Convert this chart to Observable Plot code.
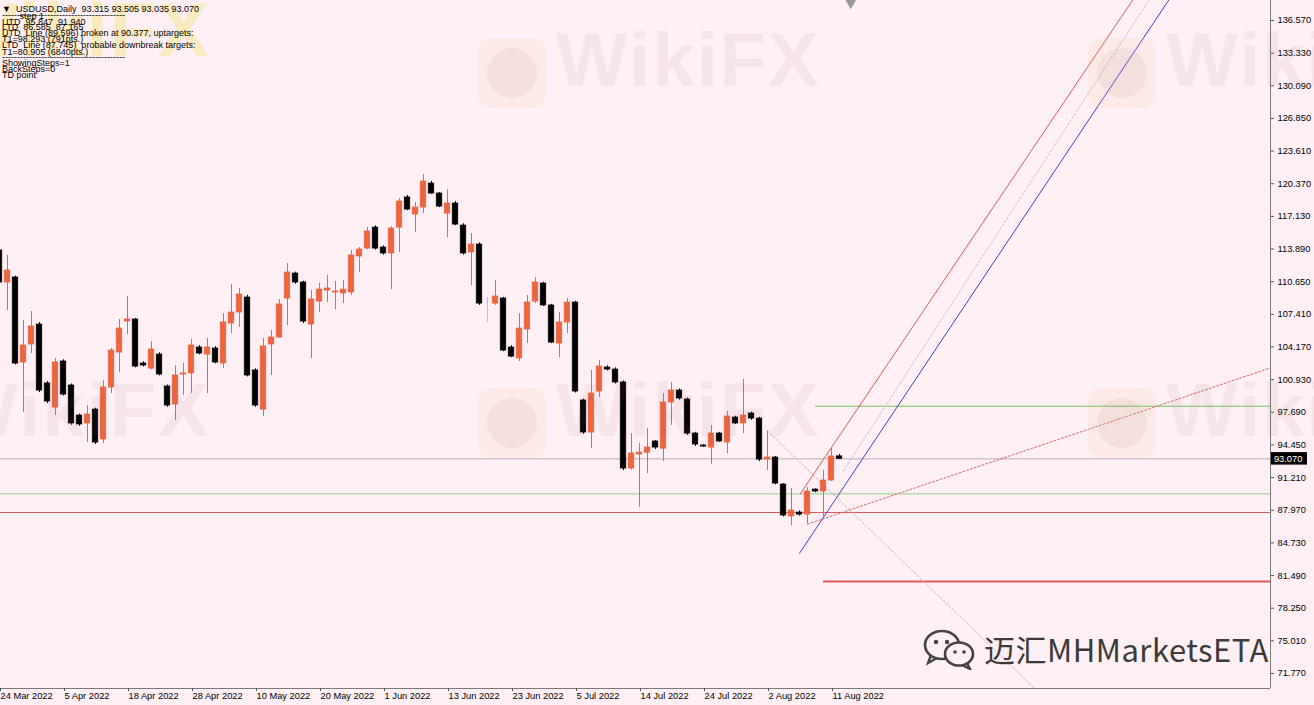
<!DOCTYPE html>
<html>
<head>
<meta charset="utf-8">
<script src="https://cdn.jsdelivr.net/npm/d3@7"></script>
<script src="https://cdn.jsdelivr.net/npm/@observablehq/plot@0.6"></script>
<style>
html,body{margin:0;padding:0;background:#FFF0F5;overflow:hidden}
#wrap{position:relative;width:1314px;height:705px;font-family:"Liberation Sans",Arial,sans-serif;background:#FFF0F5}
#chart{position:absolute;left:0;top:0}
.info{position:absolute;left:2px;font-size:9px;line-height:10px;color:#000;white-space:pre}
.wm{position:absolute;font-family:"Liberation Sans",Arial,sans-serif;font-weight:bold;font-size:76px;color:rgba(150,100,110,0.085);white-space:nowrap;letter-spacing:2px}
.logo{position:absolute;width:68px;height:70px;border-radius:14px;background:rgba(240,190,130,0.13)}
.logo::after{content:"";position:absolute;left:9px;top:10px;width:50px;height:50px;border-radius:50%;background:rgba(150,120,130,0.09)}
#brand{position:absolute;left:984px;top:626px;font-family:"Noto Sans CJK SC",sans-serif;font-size:31px;color:#3a3a3a;white-space:nowrap;letter-spacing:0.5px}
#wechat{position:absolute;left:922px;top:628px}
</style>
</head>
<body>
<div id="wrap">
  <div id="chart"></div>
</div>
<script>
// ---------------- data ----------------
const firstBar = -1; // bar index of first candle (x positions are bar indices)
const opens  = [113.75,110.57,111.07,102.63,104.42,106.40,100.55,98.16,102.73,100.35,97.37,96.58,97.96,94.99,100.15,103.62,106.70,106.90,102.53,102.03,103.42,100.25,98.46,101.44,101.54,104.12,103.42,104.02,102.53,106.50,107.59,109.08,101.84,97.96,104.42,105.11,108.98,111.46,110.57,106.40,108.68,109.77,109.58,109.48,109.58,113.15,113.94,116.02,114.04,113.45,116.02,119.01,117.32,118.01,120.39,119.40,117.41,118.41,116.22,113.55,114.34,108.78,108.48,108.98,104.12,103.03,105.91,108.68,110.47,108.29,104.51,106.60,108.58,98.86,95.68,99.75,102.13,101.93,100.65,92.11,93.50,93.68,94.79,94.08,98.66,99.85,98.96,95.58,94.39,94.19,95.58,94.69,97.17,96.58,97.57,97.07,93.00,93.20,90.52,87.35,87.74,87.54,90.02,89.83,90.92,93.315];
const highs  = [114.24,113.25,111.20,106.80,107.69,106.60,100.74,103.03,102.90,100.50,97.50,98.36,98.10,100.84,104.02,106.90,109.18,107.00,102.70,104.71,103.60,100.40,102.33,102.53,104.91,104.30,105.01,104.20,107.49,110.37,109.97,109.30,102.00,105.01,105.81,108.88,112.45,111.60,110.70,109.77,110.47,111.26,110.67,110.77,113.75,114.04,116.02,116.20,114.20,116.12,118.91,119.20,118.51,121.29,120.60,119.50,119.80,118.60,116.40,115.43,114.50,109.08,110.77,109.10,104.30,107.49,109.28,111.07,110.60,108.40,107.59,108.98,108.70,99.00,101.84,102.83,102.30,102.10,100.80,95.58,94.59,96.08,94.90,99.55,100.65,100.00,99.10,95.70,94.50,96.38,95.70,97.77,97.30,100.94,97.70,97.20,95.847,93.30,90.60,90.12,87.90,90.22,90.10,91.94,94.19,93.505];
const lows   = [110.27,107.79,102.40,97.67,103.52,99.65,98.56,97.37,99.30,96.40,96.30,94.69,94.50,94.59,99.55,101.64,105.41,102.10,102.20,101.90,101.30,98.20,96.87,99.36,99.55,103.40,99.55,102.50,102.03,105.51,106.10,101.20,98.20,97.27,101.34,105.01,106.30,110.40,106.50,103.03,107.59,108.58,107.89,108.48,109.28,111.56,113.80,113.80,113.30,109.87,113.55,117.70,115.53,117.41,119.30,118.00,115.03,116.20,113.30,110.27,108.30,106.60,108.29,103.70,103.10,102.73,104.51,108.48,108.20,104.50,103.13,105.51,99.60,95.50,94.08,99.16,101.80,100.50,91.90,91.95,88.24,91.61,94.00,92.81,96.38,98.90,95.40,94.30,94.20,92.51,94.70,93.60,96.50,95.58,96.90,92.80,91.91,90.50,87.30,86.45,87.40,86.585,89.70,87.165,90.80,93.035];
const closes = [110.57,111.76,102.53,104.32,106.20,99.85,98.76,102.63,99.45,96.58,96.48,97.47,94.69,100.15,103.82,106.00,106.90,102.23,102.33,103.92,101.44,98.36,101.34,101.54,104.32,103.52,104.12,102.63,106.60,107.59,109.38,101.34,98.36,104.22,105.11,108.39,111.56,110.57,106.70,108.88,109.87,109.97,109.68,109.87,113.25,113.84,115.63,113.94,113.45,115.93,118.61,117.81,118.01,120.59,119.40,118.11,118.41,116.32,113.45,114.34,108.48,108.78,109.18,103.82,103.22,106.00,108.58,110.57,108.29,104.61,106.60,108.58,99.75,95.68,99.55,102.23,101.93,100.65,92.11,93.60,93.68,94.19,94.19,98.66,99.85,99.06,95.58,94.49,94.29,95.58,94.79,97.27,96.58,97.37,97.07,93.00,93.20,90.62,87.45,87.94,87.54,89.83,89.83,90.92,93.30,93.07];

const dateTickBars   = [-1,7,15,23,31,39,47,55,63,71,79,87,95,103];
const dateTickLabels = ["24 Mar 2022","5 Apr 2022","18 Apr 2022","28 Apr 2022","10 May 2022","20 May 2022","1 Jun 2022","13 Jun 2022","23 Jun 2022","5 Jul 2022","14 Jul 2022","24 Jul 2022","2 Aug 2022","11 Aug 2022"];
const priceTicks = [136.57,133.33,130.09,126.85,123.61,120.37,117.13,113.89,110.65,107.41,104.17,100.93,97.69,94.45,91.21,87.97,84.73,81.49,78.25,75.01,71.77];

const lastPrice = 93.07;
const utdLevel = 89.596;        // UTD line value
const ltdLevel = 87.745;        // LTD line value
const upTarget = 98.293;        // T1 up
const downTarget = 80.905;      // T1 down
const targetStartBar = [101, 102];
// TD lines (bar, price)
const utdLine = [{bar:95, price:95.847},{bar:128.4, price:70.28}];
const ltdLine = [{bar:100, price:86.585},{bar:157.875, price:102.1}];
const channelRed  = [{bar:99.1, price:89.6},{bar:141.5, price:139.6}];
const channelMid  = [{bar:104.5, price:91.9},{bar:143.5, price:139.6}];
const channelBlue = [{bar:99.0, price:83.7},{bar:146.0, price:139.6}];
const shiftMarkerBar = [105.4];

// ---------------- build ----------------
const xDomain = [-0.875, 157.875];
const yDomain = [70.28, 138.555];
const UP = "#EE6440", DOWN = "#000000", DOJI = "#8EE88E";
const bars = opens.map((o, i) => ({bar: i + firstBar, o, h: highs[i], l: lows[i], c: closes[i]}));
const col = d => d.c > d.o ? UP : (d.c < d.o ? DOWN : DOJI);
const labelOf = new Map(dateTickBars.map((b, i) => [b, dateTickLabels[i]]));

const chart = Plot.plot({
  width: 1314, height: 705,
  marginLeft: 0, marginRight: 44, marginTop: 0, marginBottom: 17,
  style: {background: "transparent", fontFamily: "Liberation Sans, Arial, sans-serif", fontSize: "9.3px", color: "#000", overflow: "visible"},
  x: {domain: xDomain, axis: null},
  y: {domain: yDomain, axis: null},
  color: {type: "identity"},
  marks: [
    // horizontal levels
    Plot.ruleY([lastPrice], {stroke: "#B4AAB4", strokeWidth: 1}),
    Plot.ruleY([utdLevel], {stroke: "#8FD07F", strokeWidth: 1}),
    Plot.ruleY([ltdLevel], {stroke: "#D85A5A", strokeWidth: 1}),
    Plot.ruleY([upTarget], {x1: targetStartBar[0], x2: xDomain[1], stroke: "#6CC05C", strokeWidth: 1}),
    Plot.ruleY([downTarget], {x1: targetStartBar[1], x2: xDomain[1], stroke: "#E05A5A", strokeWidth: 2}),
    // TD lines
    Plot.line(utdLine, {x: "bar", y: "price", stroke: "#C8B4BC", strokeWidth: 1, strokeDasharray: "2,2", clip: true}),
    Plot.line(ltdLine, {x: "bar", y: "price", stroke: "#D86A6A", strokeWidth: 1, strokeDasharray: "2,2", clip: true}),
    Plot.line(channelRed, {x: "bar", y: "price", stroke: "#E05858", strokeWidth: 1, clip: true}),
    Plot.line(channelMid, {x: "bar", y: "price", stroke: "#C8BCC8", strokeWidth: 1, strokeDasharray: "2,2", clip: true}),
    Plot.line(channelBlue, {x: "bar", y: "price", stroke: "#3C3CE6", strokeWidth: 1, clip: true}),
    // candles
    Plot.ruleX(bars, {x: "bar", y1: "l", y2: "h", stroke: col, strokeWidth: 1, clip: true}),
    Plot.rect(bars, {x1: d => d.bar - 0.34, x2: d => d.bar + 0.34, y1: d => Math.min(d.o, d.c), y2: d => Math.max(d.o, d.c), fill: col, stroke: col, strokeWidth: 0.8, clip: true}),
    // frame (right & bottom)
    Plot.ruleX([xDomain[1]], {stroke: "#7A7A7A", strokeWidth: 1}),
    Plot.ruleY([yDomain[0]], {stroke: "#7A7A7A", strokeWidth: 1}),
    // chart shift marker
    Plot.dot(shiftMarkerBar, {x: d => d, y: yDomain[1] - 0.25, symbol: "triangle", rotate: 180, r: 4, fill: "#9A9A9A", stroke: "none"}),
    // axes
    Plot.axisY(priceTicks, {anchor: "right", label: null, tickSize: 3, tickPadding: 4, tickFormat: d => d.toFixed(3), stroke: "#555", fill: "#000"}),
    Plot.axisX(dateTickBars, {anchor: "bottom", label: null, tickSize: 3, tickPadding: 1, textAnchor: "start", dx: 1, tickFormat: d => labelOf.get(d), stroke: "#555", fill: "#000"}),
    // last price label
    Plot.rect([lastPrice], {x1: 157.98, x2: 162.5, y1: d => d - 0.62, y2: d => d + 0.62, fill: "#000", clip: false}),
    Plot.text([lastPrice], {x: 158.3, y: d => d, text: d => d.toFixed(3), fill: "#fff", textAnchor: "start", fontSize: 9.3, clip: false})
  ]
});
document.getElementById("chart").appendChild(chart);

// ---------------- overlays (text) ----------------
const wrap = document.getElementById("wrap");
function add(html) { wrap.insertAdjacentHTML("beforeend", html); }

// watermarks
const wmTiles = [[-132, 8, "rgba(235,225,60,0.30)"], [478, 38, null], [1088, 38, null], [-132, 388, null], [478, 388, null], [1088, 388, null]];
wmTiles.forEach(([lx, ly, c]) => {
  add(`<div class="logo" style="left:${lx}px;top:${ly}px"></div>`);
  add(`<div class="wm" style="left:${lx + 78}px;top:${ly - 22}px${c ? ";color:" + c : ""}">WikiFX</div>`);
});

// info text block
const infoLines = [
  [4, "\u25BC  USDUSD,Daily  93.315 93.505 93.035 93.070"],
  [10, "-----------------------------------------"],
  [11, "       step 1"],
  [17, "UTD  95.847  91.940"],
  [22, "LTD  86.585  87.165"],
  [28, "UTD  Line (89.596) broken at 90.377, uptargets:"],
  [34, "T1=98.293 (791pts.)"],
  [40, "LTD  Line (87.745)  probable downbreak targets:"],
  [47, "T1=80.905 (6840pts.)"],
  [52, "-----------------------------------------"],
  [58, "ShowingSteps=1"],
  [64, "BackSteps=0"],
  [70, "TD point"]
];
infoLines.forEach(([t, s]) => add(`<div class="info" style="top:${t}px">${s}</div>`));

// brand
add(`<svg id="wechat" width="56" height="42" viewBox="0 0 56 42">
  <ellipse cx="20" cy="17" rx="17" ry="14" fill="none" stroke="#444" stroke-width="2.6"/>
  <path d="M9 27 L6 35 L15 30" fill="none" stroke="#444" stroke-width="2.4"/>
  <circle cx="14" cy="14" r="2.2" fill="#444"/><circle cx="25" cy="14" r="2.2" fill="#444"/>
  <ellipse cx="37" cy="26" rx="14" ry="11.5" fill="#FFF0F5" stroke="#444" stroke-width="2.6"/>
  <path d="M45 35 L48 41 L40 37" fill="none" stroke="#444" stroke-width="2.4"/>
  <circle cx="33" cy="24" r="1.8" fill="#444"/><circle cx="42" cy="24" r="1.8" fill="#444"/>
</svg>`);
add(`<div id="brand">迈汇MHMarketsETA</div>`);
</script>
</body>
</html>
